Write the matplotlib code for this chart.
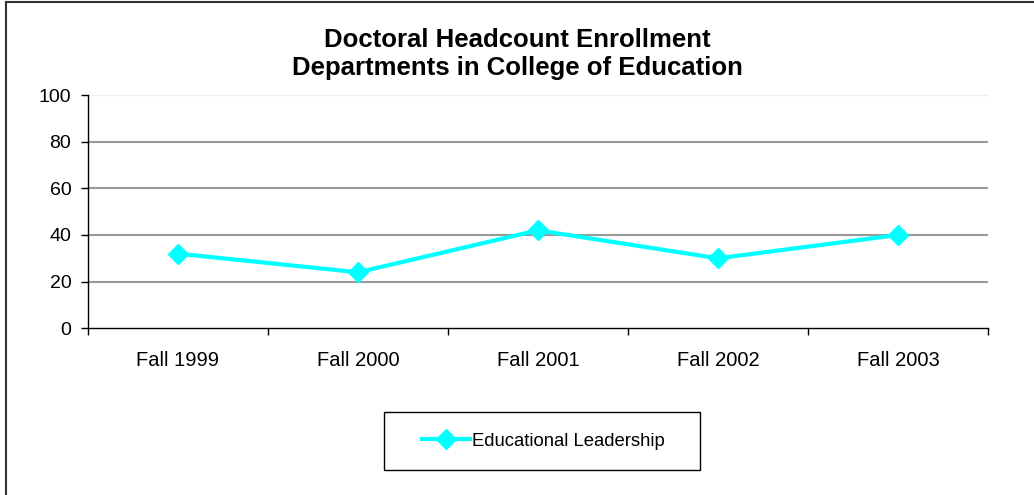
import matplotlib
matplotlib.use('Agg')
import matplotlib.pyplot as plt
from matplotlib.lines import Line2D
from matplotlib.patches import Rectangle

# ── Données ───────────────────────────────────────────────────────────────────
semesters = ['Fall 1999', 'Fall 2000', 'Fall 2001', 'Fall 2002', 'Fall 2003']
edu_leadership = [32, 24, 42, 30, 40]
y_ticks = [0, 20, 40, 60, 80, 100]

plt.rcParams['font.family'] = ['Liberation Sans', 'DejaVu Sans']

W, H = 1034, 495
fig = plt.figure(figsize=(W / 100, H / 100), dpi=100)
ax = fig.add_axes([88 / W, 1 - 328.3 / H, 900 / W, 233.3 / H])

# cadre extérieur (seuls les bords gauche et haut sont visibles)
fig.add_artist(Line2D([6 / W, 6 / W], [0, 1 - 2 / H], color='#333333', lw=1.5))
fig.add_artist(Line2D([6 / W, 1], [1 - 2 / H, 1 - 2 / H], color='#333333', lw=1.5))

x = [i + 0.5 for i in range(len(semesters))]
ax.plot(x, edu_leadership, color='#00FFFF', lw=3, marker='D', markersize=10,
        label='Educational Leadership', zorder=3)

ax.set_xlim(0, len(semesters))
ax.set_ylim(0, 100)
ax.set_yticks(y_ticks)
ax.set_xticks(x)
ax.set_xticklabels(semesters)
ax.set_xticks(range(len(semesters) + 1), minor=True)
ax.tick_params(axis='x', which='major', length=0, pad=16, labelsize=14.5)
ax.tick_params(axis='x', which='minor', length=5, width=1, direction='out')
ax.tick_params(axis='y', length=5, width=1, direction='out', labelsize=14, pad=7)

for v in y_ticks[1:-1]:
    ax.axhline(v, color='#999999', lw=1.5, zorder=1)
ax.axhline(100, color='#eeeeee', lw=1, zorder=1)

for s in ['top', 'right']:
    ax.spines[s].set_visible(False)
ax.spines['left'].set_linewidth(1)
ax.spines['bottom'].set_linewidth(1)

fig.text(0.5, 1 - 54 / H, 'Doctoral Headcount Enrollment\nDepartments in College of Education',
         ha='center', va='center', fontsize=18.5, fontweight='bold', linespacing=1.2)

# légende : cadre dessiné à part pour coller aux marges de l'original
fig.add_artist(Rectangle((384 / W, 1 - 470 / H), 316 / W, 58 / H, transform=fig.transFigure,
                         facecolor='white', edgecolor='black', lw=1, zorder=2))
leg = fig.legend(loc='center', bbox_to_anchor=(543 / W, 1 - 441 / H), fontsize=13.3,
                 frameon=False, handlelength=2.6, handletextpad=0.1, borderpad=0,
                 borderaxespad=0)
leg.set_zorder(3)

fig.savefig('out.png', dpi=100)
